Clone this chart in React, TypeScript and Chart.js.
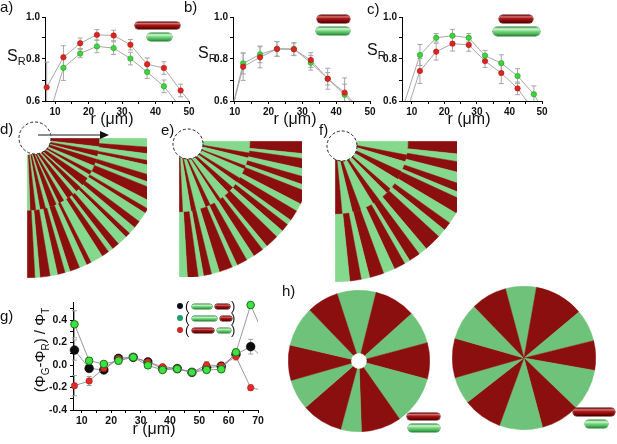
import React, { useEffect, useRef } from 'react';
import { Chart, registerables } from 'chart.js';

Chart.register(...registerables);

const FONT = "'Liberation Sans', Arial, Helvetica, sans-serif";

// ---------------- panel a (long red / short green) ----------------
const rA = [7.5, 12.5, 17.5, 22.5, 27.5, 32.5, 37.5, 42.5, 47.5, 52.5];
const aRed = [0.665, 0.808, 0.875, 0.915, 0.912, 0.868, 0.775, 0.757, 0.65, 0.55];
const aRedErr = [0.12, 0.055, 0.025, 0.025, 0.025, 0.025, 0.03, 0.03, 0.03, 0];
const aGreen = [0.49, 0.758, 0.826, 0.86, 0.852, 0.802, 0.738, 0.67, 0.57, 0.47];
const aGreenErr = [0, 0.06, 0.02, 0.03, 0.03, 0.03, 0.03, 0.03, 0, 0];

// ---------------- panel b (equal rods) ----------------
const rB = [7.5, 12.5, 17.5, 22.5, 27.5, 32.5, 37.5, 42.5, 47.5];
const bRed = [0.45, 0.763, 0.808, 0.848, 0.846, 0.795, 0.706, 0.64, 0.55];
const bRedErr = [0, 0.065, 0.05, 0.035, 0.03, 0.035, 0.05, 0.07, 0];
const bGreen = [0.45, 0.779, 0.822, 0.848, 0.848, 0.782, 0.706, 0.63, 0.54];
const bGreenErr = [0, 0.05, 0.04, 0.035, 0.03, 0.035, 0.03, 0.05, 0];

// ---------------- panel c (short red / long green) ----------------
const rC = [7.5, 12.5, 17.5, 22.5, 27.5, 32.5, 37.5, 42.5, 47.5, 52.5];
const cRed = [0.505, 0.743, 0.835, 0.873, 0.867, 0.79, 0.733, 0.66, 0.553, 0.45];
const cRedErr = [0, 0.06, 0.04, 0.035, 0.03, 0.03, 0.05, 0.03, 0, 0];
const cGreen = [0.58, 0.819, 0.901, 0.911, 0.901, 0.816, 0.78, 0.719, 0.632, 0.5];
const cGreenErr = [0, 0.05, 0.02, 0.03, 0.02, 0.025, 0.04, 0.035, 0.04, 0];

const srXTicks = [10, 15, 20, 25, 30, 35, 40, 45, 50];
const srXLabels = [10, 20, 30, 40, 50];
const srYTicks = [0.6, 0.7, 0.8, 0.9, 1.0];
const srYLabels = [0.6, 0.8, 1.0];

// ---------------- panel g ----------------
const rG = [7.5, 12.5, 17.5, 22.5, 27.5, 32.5, 37.5, 42.5, 47.5, 52.5, 57.5, 62.5, 67.5, 72.5];
const gBlack = [0.133, -0.03, -0.044, 0.059, 0.068, 0.027, -0.032, -0.032, -0.065, -0.025, -0.01, 0.095, 0.163, 0.045];
const gBlackErr = [0.09, 0.03, 0.025, 0.03, 0.02, 0.02, 0.02, 0.02, 0.02, 0.025, 0.02, 0.03, 0.065, 0];
const gGreen = [0.362, 0.038, 0.009, 0.038, 0.068, -0.003, -0.044, -0.035, -0.065, -0.044, -0.038, 0.113, 0.533, 0.237];
const gGreenErr = [0.12, 0.025, 0.02, 0.03, 0.02, 0.02, 0.02, 0.015, 0.015, 0.02, 0.02, 0.03, 0.03, 0];
const gRed = [-0.184, -0.142, -0.03, 0.059, 0.068, 0.027, -0.015, -0.03, -0.065, 0.0, -0.006, 0.074, -0.202, -0.23];
const gRedErr = [0.09, 0.04, 0.03, 0.03, 0.02, 0.02, 0.02, 0.015, 0.015, 0.03, 0.02, 0.03, 0.025, 0];
const gXTicks = [10, 15, 20, 25, 30, 35, 40, 45, 50, 55, 60, 65, 70];
const gXLabels = [10, 20, 30, 40, 50, 60, 70];
const gYTicks = [-0.4, -0.3, -0.2, -0.1, 0, 0.1, 0.2, 0.3, 0.4, 0.5];
const gYLabels = [-0.4, -0.2, 0, 0.2, 0.4];

// ---------------- colony sector widths (degrees), outer ring then inner ring ----------------
const dOuter = [4, 3, 3, 2, 4, 3, 2, 5, 3, 2, 4, 3, 3, 2, 4, 3, 2, 3, 5, 2, 3, 4, 2, 3, 3, 4, 2, 3];
const dInner = [6, 3, 4, 2, 5, 4, 3, 3, 6, 2, 4, 3, 5, 3, 4, 2, 5, 3, 4, 3, 4, 2];
const eOuter = [5, 2, 4, 3, 3, 2, 5, 3, 4, 2, 3, 3, 5, 2, 4, 3, 4, 2, 5, 3, 3, 2, 4, 3];
const eInner = [7, 3, 5, 2, 6, 3, 4, 4, 6, 2, 5, 3, 6, 3, 5, 2];
const fOuter = [5, 3, 4, 4, 3, 2, 5, 4, 3, 3, 6, 3, 4, 2, 4, 4, 5, 3, 4, 5];
const fInner = [8, 4, 6, 5, 7, 3, 6, 4, 8, 5, 6, 4];
const hLeftSectors = [32, 34, 27, 30, 40, 33, 17, 34, 25, 29, 33, 26];
const hRightSectors = [25, 40, 26, 24, 34, 31, 35, 32, 22, 32, 30, 29];

const COL_RED = '#8b0f0f';
const COL_GREEN_Q = '#84d98c';
const COL_GREEN_H = '#6fc27a';

const errorBars = {
  id: 'errorBars',
  beforeDatasetsDraw(chart: any) {
    const { ctx, chartArea, scales } = chart;
    ctx.save();
    ctx.beginPath();
    ctx.rect(chartArea.left - 6, chartArea.top, chartArea.right - chartArea.left + 6, chartArea.bottom - chartArea.top);
    ctx.clip();
    chart.data.datasets.forEach((ds: any, i: number) => {
      const errs = ds.errors;
      if (!errs) return;
      const meta = chart.getDatasetMeta(i);
      ctx.strokeStyle = ds.errorColor;
      ctx.lineWidth = 1;
      meta.data.forEach((pt: any, j: number) => {
        const e = errs[j];
        if (!e) return;
        const v = ds.data[j].y;
        const x = pt.x;
        const y1 = scales.y.getPixelForValue(v + e);
        const y2 = scales.y.getPixelForValue(v - e);
        ctx.beginPath();
        ctx.moveTo(x, y1); ctx.lineTo(x, y2);
        ctx.moveTo(x - 2.5, y1); ctx.lineTo(x + 2.5, y1);
        ctx.moveTo(x - 2.5, y2); ctx.lineTo(x + 2.5, y2);
        ctx.stroke();
      });
    });
    ctx.restore();
  },
};

type Series = { xs: number[]; ys: number[]; errs: number[]; fill: string; edge: string; radius: number; edgeWidth: number };
type LineSpec = {
  left: number; top: number; width: number; height: number;
  xMin: number; xMax: number; yMin: number; yMax: number;
  xTicks: number[]; xLabels: number[]; yTicks: number[]; yLabels: number[];
  yWidth: number; xHeight: number; padTop: number; padRight: number;
  series: Series[]; lineColor: string; errColor: string; clipLeft: number;
  tickFont: number; yPad: number;
};

function LineChart({ spec }: { spec: LineSpec }) {
  const ref = useRef<HTMLCanvasElement>(null);
  useEffect(() => {
    const s = spec;
    const tickFont = { family: FONT, size: s.tickFont, weight: 'bold' as const };
    const chart = new Chart(ref.current as HTMLCanvasElement, {
      type: 'line',
      data: {
        datasets: s.series.map((se) => ({
          data: se.xs.map((x, i) => ({ x, y: se.ys[i] })),
          errors: se.errs,
          errorColor: s.errColor,
          borderColor: s.lineColor,
          borderWidth: 0.9,
          pointRadius: se.radius,
          pointBackgroundColor: se.fill,
          pointBorderColor: se.edge,
          pointBorderWidth: se.edgeWidth,
          tension: 0,
          fill: false,
          clip: { left: s.clipLeft, top: 6, right: 0, bottom: 0 },
        })) as any,
      },
      options: {
        animation: false,
        responsive: false,
        events: [],
        layout: { padding: { left: 0, top: s.padTop, right: s.padRight, bottom: 0 } },
        plugins: { legend: { display: false }, tooltip: { enabled: false } },
        scales: {
          x: {
            type: 'linear',
            min: s.xMin,
            max: s.xMax,
            afterBuildTicks: (sc: any) => { sc.ticks = s.xTicks.map((v) => ({ value: v })); },
            afterFit: (sc: any) => { sc.height = s.xHeight; sc.paddingLeft = 0; sc.paddingRight = 0; },
            ticks: {
              autoSkip: false, maxRotation: 0, minRotation: 0, padding: 2, color: '#111', font: tickFont,
              callback: (v: any) => (s.xLabels.includes(v) ? String(v) : ''),
            },
            grid: { drawOnChartArea: false, drawTicks: true, tickLength: 3, color: '#000', lineWidth: 1 },
            border: { display: true, color: '#000', width: 1 },
          },
          y: {
            type: 'linear',
            min: s.yMin,
            max: s.yMax,
            afterBuildTicks: (sc: any) => { sc.ticks = s.yTicks.map((v) => ({ value: v })); },
            afterFit: (sc: any) => { sc.width = s.yWidth; sc.paddingTop = 0; sc.paddingBottom = 0; },
            ticks: {
              autoSkip: false, padding: s.yPad, color: '#111', font: tickFont,
              callback: (v: any) => (s.yLabels.includes(v) ? Number(v).toFixed(1) : ''),
            },
            grid: { drawOnChartArea: false, drawTicks: true, tickLength: 3, color: '#000', lineWidth: 1 },
            border: { display: true, color: '#000', width: 1 },
          },
        },
      } as any,
      plugins: [errorBars],
    });
    return () => chart.destroy();
  }, [spec]);
  return (
    <canvas
      ref={ref}
      width={spec.width}
      height={spec.height}
      style={{ position: 'absolute', left: spec.left, top: spec.top, width: spec.width, height: spec.height }}
    />
  );
}

type Ring = { values: number[]; first: string; second: string; weight: number };
type WedgeSpec = { rings: Ring[]; rotation: number; circumference: number; cutout: number | string; size: number };

function Wedges({ spec }: { spec: WedgeSpec }) {
  const ref = useRef<HTMLCanvasElement>(null);
  useEffect(() => {
    const s = spec;
    const maxLen = Math.max(...s.rings.map((r) => r.values.length));
    const chart = new Chart(ref.current as HTMLCanvasElement, {
      type: 'doughnut',
      data: {
        labels: Array.from({ length: maxLen }, (_, i) => String(i)),
        datasets: s.rings.map((r) => {
          const colors = r.values.map((_, i) => (i % 2 === 0 ? r.first : r.second));
          return { data: r.values, backgroundColor: colors, borderColor: colors, borderWidth: 0.5, weight: r.weight };
        }),
      },
      options: {
        animation: false,
        responsive: false,
        events: [],
        rotation: s.rotation,
        circumference: s.circumference,
        cutout: s.cutout,
        layout: { padding: 0 },
        plugins: { legend: { display: false }, tooltip: { enabled: false } },
      } as any,
    });
    return () => chart.destroy();
  }, [spec]);
  return <canvas ref={ref} width={spec.size} height={spec.size} style={{ position: 'absolute', left: 0, top: 0, width: spec.size, height: spec.size }} />;
}

function Quarter({ left, top, w, h, spec }: { left: number; top: number; w: number; h: number; spec: WedgeSpec }) {
  return (
    <div style={{ position: 'absolute', left, top, width: w, height: h, overflow: 'hidden' }}>
      <Wedges spec={spec} />
    </div>
  );
}

function Disc({ left, top, spec }: { left: number; top: number; spec: WedgeSpec }) {
  return (
    <div style={{ position: 'absolute', left, top, width: spec.size, height: spec.size }}>
      <Wedges spec={spec} />
    </div>
  );
}

const RED_ROD = 'linear-gradient(to bottom, #6a0606 0%, #d97070 22%, #a81818 45%, #7a0404 80%, #4a0000 100%)';
const GREEN_ROD = 'linear-gradient(to bottom, #3c9a4a 0%, #d2f8d2 22%, #74d67e 50%, #43b052 80%, #2c7c37 100%)';

function Rod({ x, y, w, h, red }: { x: number; y: number; w: number; h: number; red: boolean }) {
  return (
    <div
      style={{
        position: 'absolute', left: x, top: y, width: w, height: h, borderRadius: h / 2,
        background: red ? RED_ROD : GREEN_ROD,
        boxShadow: red ? '0 0 0 0.5px #4a0000' : '0 0 0 0.5px #2c7c37',
      }}
    />
  );
}

function Txt({ x, y, size, children, w, align }: { x: number; y: number; size: number; children: any; w?: number; align?: any }) {
  return (
    <div
      style={{
        position: 'absolute', left: x, top: y, fontSize: size, lineHeight: 1, fontFamily: FONT, color: '#111',
        whiteSpace: 'nowrap', width: w, textAlign: align || 'left',
      }}
    >
      {children}
    </div>
  );
}

const Sub = ({ children, size }: { children: any; size: number }) => (
  <span style={{ fontSize: size, position: 'relative', top: size * 0.38 }}>{children}</span>
);

const seriesStyle = (xs: number[], ys: number[], errs: number[], red: boolean): Series => ({
  xs, ys, errs,
  fill: red ? '#dd2420' : '#3fd23f',
  edge: red ? '#b01515' : '#22a022',
  radius: 2.7,
  edgeWidth: 0.6,
});

const specA: LineSpec = {
  left: 0, top: 0, width: 196, height: 130,
  xMin: 7, xMax: 50, yMin: 0.6, yMax: 1.0,
  xTicks: srXTicks, xLabels: srXLabels, yTicks: srYTicks, yLabels: srYLabels,
  yWidth: 45, xHeight: 29, padTop: 17, padRight: 7,
  series: [seriesStyle(rA, aRed, aRedErr, true), seriesStyle(rA, aGreen, aGreenErr, false)],
  lineColor: '#9d9d9d', errColor: '#a6a6a6', clipLeft: 4, tickFont: 10, yPad: 2,
};
const specB: LineSpec = {
  left: 196, top: 0, width: 184, height: 130,
  xMin: 9.5, xMax: 50, yMin: 0.6, yMax: 1.0,
  xTicks: srXTicks, xLabels: srXLabels, yTicks: srYTicks, yLabels: srYLabels,
  yWidth: 37, xHeight: 29, padTop: 17, padRight: 10,
  series: [seriesStyle(rB, bRed, bRedErr, true), seriesStyle(rB, bGreen, bGreenErr, false)],
  lineColor: '#9d9d9d', errColor: '#a6a6a6', clipLeft: 0, tickFont: 10, yPad: 2,
};
const specC: LineSpec = {
  left: 380, top: 0, width: 237, height: 130,
  xMin: 7, xMax: 50, yMin: 0.6, yMax: 1.0,
  xTicks: srXTicks, xLabels: srXLabels, yTicks: srYTicks, yLabels: srYLabels,
  yWidth: 22, xHeight: 29, padTop: 17, padRight: 75,
  series: [seriesStyle(rC, cGreen, cGreenErr, false), seriesStyle(rC, cRed, cRedErr, true)],
  lineColor: '#9d9d9d', errColor: '#a6a6a6', clipLeft: 4, tickFont: 10, yPad: 2,
};
const specG: LineSpec = {
  left: 0, top: 290, width: 275, height: 154,
  xMin: 7, xMax: 70, yMin: -0.4, yMax: 0.56,
  xTicks: gXTicks, xLabels: gXLabels, yTicks: gYTicks, yLabels: gYLabels,
  yWidth: 73, xHeight: 34, padTop: 12, padRight: 17,
  series: [
    { xs: rG, ys: gGreen, errs: gGreenErr, fill: '#3ee23e', edge: '#1d6e1d', radius: 3.8, edgeWidth: 1 },
    { xs: rG, ys: gRed, errs: gRedErr, fill: '#e02a2a', edge: '#b01818', radius: 3.2, edgeWidth: 0.6 },
    { xs: rG, ys: gBlack, errs: gBlackErr, fill: '#0c0c0c', edge: '#000000', radius: 4.4, edgeWidth: 0.5 },
  ],
  lineColor: '#8c8c8c', errColor: '#a0a0a0', clipLeft: 5, tickFont: 10.5, yPad: 3,
};

const quarterD: WedgeSpec = {
  rings: [
    { values: dOuter, first: COL_GREEN_Q, second: COL_RED, weight: 1.2 },
    { values: dInner, first: COL_RED, second: COL_GREEN_Q, weight: 1 },
  ],
  rotation: 90, circumference: 90, cutout: '12%', size: 140,
};
const quarterE: WedgeSpec = {
  rings: [
    { values: eOuter, first: COL_RED, second: COL_GREEN_Q, weight: 1.2 },
    { values: eInner, first: COL_GREEN_Q, second: COL_RED, weight: 1 },
  ],
  rotation: 90, circumference: 90, cutout: '12%', size: 137,
};
const quarterF: WedgeSpec = {
  rings: [
    { values: fOuter, first: COL_RED, second: COL_GREEN_Q, weight: 1.2 },
    { values: fInner, first: COL_GREEN_Q, second: COL_RED, weight: 1 },
  ],
  rotation: 90, circumference: 90, cutout: '12%', size: 141,
};
const discL: WedgeSpec = {
  rings: [{ values: hLeftSectors, first: COL_GREEN_H, second: COL_RED, weight: 1 }],
  rotation: -18, circumference: 360, cutout: 8, size: 142,
};
const discR: WedgeSpec = {
  rings: [{ values: hRightSectors, first: COL_GREEN_H, second: COL_RED, weight: 1 }],
  rotation: -15, circumference: 360, cutout: 0, size: 144,
};

function LegendRow({ y, dot, rods }: { y: number; dot: string; rods: { w: number; red: boolean }[] }) {
  let x = 192;
  const items = rods.map((r, i) => {
    const el = <Rod key={i} x={x} y={y - 2.5} w={r.w} h={5} red={r.red} />;
    x += r.w + 3;
    return el;
  });
  return (
    <>
      <div style={{ position: 'absolute', left: 177, top: y - 3, width: 6, height: 6, borderRadius: 3, background: dot }} />
      <Txt x={185} y={y - 7} size={13}>(</Txt>
      {items}
      <Txt x={231} y={y - 7} size={13}>)</Txt>
    </>
  );
}

export default function App() {
  return (
    <div style={{ position: 'absolute', left: 0, top: 0, width: 617, height: 444, background: '#fff', overflow: 'hidden', fontFamily: FONT }}>
      <LineChart spec={specA} />
      <LineChart spec={specB} />
      <LineChart spec={specC} />
      <LineChart spec={specG} />

      <Quarter left={27} top={138} w={120} h={141} spec={quarterD} />
      <Quarter left={179} top={141} w={123} h={136} spec={quarterE} />
      <Quarter left={335} top={141} w={122} h={141} spec={quarterF} />

      <Disc left={288} top={290} spec={discL} />
      <Disc left={452} top={286} spec={discR} />

      <svg width={617} height={444} style={{ position: 'absolute', left: 0, top: 0, pointerEvents: 'none' }}>
        <circle cx={35} cy={138} r={16} fill="#fff" stroke="#222" strokeWidth={1} strokeDasharray="3 2" />
        <circle cx={188} cy={144} r={15} fill="#fff" stroke="#222" strokeWidth={1} strokeDasharray="3 2" />
        <circle cx={342} cy={146} r={15} fill="#fff" stroke="#222" strokeWidth={1} strokeDasharray="3 2" />
        <line x1={38} y1={135} x2={101} y2={135} stroke="#666" strokeWidth={1.5} />
        <polygon points="100,131 109,135 100,139" fill="#111" />
      </svg>

      {/* panel labels */}
      <Txt x={0} y={-1} size={15}>a)</Txt>
      <Txt x={184} y={-1} size={15}>b)</Txt>
      <Txt x={367} y={1} size={15}>c)</Txt>
      <Txt x={0} y={121} size={15}>d)</Txt>
      <Txt x={161} y={122} size={15}>e)</Txt>
      <Txt x={319} y={122} size={15}>f)</Txt>
      <Txt x={0} y={308} size={15}>g)</Txt>
      <Txt x={282} y={283} size={15}>h)</Txt>

      {/* axis titles a-c */}
      <Txt x={7} y={48} size={16}>S<Sub size={11}>R</Sub></Txt>
      <Txt x={198} y={45} size={16}>S<Sub size={11}>R</Sub></Txt>
      <Txt x={367} y={42} size={16}>S<Sub size={11}>R</Sub></Txt>
      <Txt x={62} y={111} size={16} w={100} align="center">r (μm)</Txt>
      <Txt x={245} y={111} size={16} w={100} align="center">r (μm)</Txt>
      <Txt x={419} y={111} size={16} w={100} align="center">r (μm)</Txt>

      {/* axis titles g */}
      <div
        style={{
          position: 'absolute', left: 40 - 70, top: 350 - 9, width: 140, height: 18, lineHeight: '18px',
          fontSize: 15, fontFamily: FONT, color: '#111', textAlign: 'center', whiteSpace: 'nowrap',
          transform: 'rotate(-90deg)', transformOrigin: '50% 50%',
        }}
      >
        (Φ<Sub size={10}>G</Sub>-Φ<Sub size={10}>R</Sub>) / Φ<Sub size={10}>T</Sub>
      </div>
      <Txt x={104} y={421} size={16} w={100} align="center">r (μm)</Txt>

      {/* rod legends */}
      <Rod x={135} y={22} w={45} h={7} red={true} />
      <Rod x={147} y={33} w={25} h={8} red={false} />
      <Rod x={317} y={15} w={33} h={8} red={true} />
      <Rod x={316} y={27} w={34} h={8} red={false} />
      <Rod x={499} y={15} w={34} h={8} red={true} />
      <Rod x={493} y={27} w={47} h={9} red={false} />
      <Rod x={407} y={413} w={33} h={7} red={true} />
      <Rod x={408} y={424} w={32} h={8} red={false} />
      <Rod x={573} y={408} w={42} h={8} red={true} />
      <Rod x={585} y={420} w={23} h={8} red={false} />

      <LegendRow y={306} dot="#0b0b1e" rods={[{ w: 20, red: false }, { w: 15, red: true }]} />
      <LegendRow y={318} dot="#1f9e70" rods={[{ w: 25, red: false }, { w: 12, red: true }]} />
      <LegendRow y={330} dot="#c92828" rods={[{ w: 22, red: true }, { w: 14, red: false }]} />
    </div>
  );
}
